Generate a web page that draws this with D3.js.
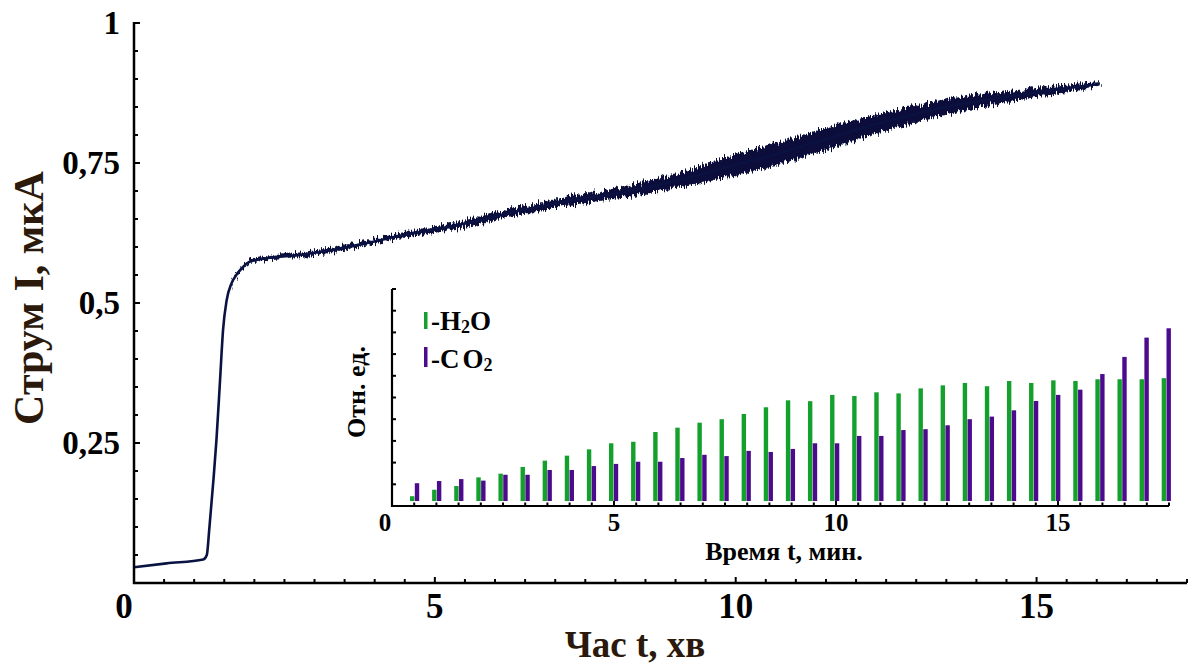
<!DOCTYPE html>
<html>
<head>
<meta charset="utf-8">
<script src="https://cdn.jsdelivr.net/npm/d3@7"></script>
<style>
  body { margin: 0; background: #fff; }
  svg { display: block; }
  text { font-family: "Liberation Serif", "Times New Roman", serif; font-weight: bold; }
</style>
</head>
<body>
<svg id="chart" width="1190" height="667"></svg>
<script>
// ---- Main trace: current vs time ----
const traceTime = [0, 0.54, 1.15, 1.21, 1.25, 1.32, 1.37, 1.43, 1.48, 1.54, 1.62, 1.70, 1.80, 1.93,
  2.20, 2.76, 3.31, 3.87, 4.42, 5.08, 5.64, 6.19, 6.74, 7.30, 7.85, 8.41, 8.96, 9.51, 10.07,
  10.62, 11.17, 11.73, 12.28, 12.83, 13.39, 13.94, 14.50, 15.05, 15.60, 16.05];
const traceCurrent = [0.028, 0.035, 0.042, 0.050, 0.095, 0.184, 0.255, 0.362, 0.452, 0.505, 0.535,
  0.550, 0.563, 0.574, 0.580, 0.586, 0.595, 0.607, 0.620, 0.633, 0.645, 0.660, 0.672, 0.684,
  0.693, 0.704, 0.717, 0.732, 0.749, 0.764, 0.782, 0.800, 0.818, 0.833, 0.848, 0.859, 0.868,
  0.877, 0.885, 0.891];
// half-width of the noise band around the trace (µA)
const traceSpread = [0, 0, 0, 0, 0, 0, 0, 0, 0, 0, 0.001, 0.002, 0.002, 0.003, 0.003, 0.004,
  0.0045, 0.0045, 0.005, 0.006, 0.0065, 0.007, 0.0075, 0.008, 0.009, 0.011, 0.013, 0.016,
  0.019, 0.020, 0.020, 0.019, 0.017, 0.016, 0.014, 0.012, 0.010, 0.008, 0.006, 0.003];

const mainXTicks = [0, 5, 10, 15];
const mainXTickLabels = ["0", "5", "10", "15"];
const mainYTicks = [0.25, 0.5, 0.75, 1];
const mainYTickLabels = ["0,25", "0,5", "0,75", "1"];

// ---- Inset: relative amounts of H2O and CO2 ----
const insetTime = [0.5, 1, 1.5, 2, 2.5, 3, 3.5, 4, 4.5, 5, 5.5, 6, 6.5, 7, 7.5, 8, 8.5, 9, 9.5,
  10, 10.5, 11, 11.5, 12, 12.5, 13, 13.5, 14, 14.5, 15, 15.5, 16, 16.5, 17, 17.5];
const waterValues = [0.45, 0.75, 0.92, 1.32, 1.49, 1.80, 2.09, 2.32, 2.61, 2.89, 2.96, 3.41,
  3.61, 3.84, 4.00, 4.24, 4.55, 4.87, 4.83, 5.12, 5.07, 5.24, 5.19, 5.42, 5.56, 5.67, 5.52,
  5.76, 5.67, 5.79, 5.76, 5.84, 5.84, 5.84, 5.89];
const co2Values = [1.05, 1.15, 1.24, 1.17, 1.44, 1.44, 1.66, 1.66, 1.84, 1.94, 2.04, 2.04,
  2.21, 2.36, 2.30, 2.54, 2.49, 2.63, 2.89, 2.89, 3.23, 3.23, 3.50, 3.54, 3.72, 4.00, 4.12,
  4.41, 4.84, 5.12, 5.36, 6.08, 6.87, 7.76, 8.19];
const insetXTicks = [0, 5, 10, 15];
const insetXTickLabels = ["0", "5", "10", "15"];
const seriesNames = ["H2O", "CO2"];
const seriesColors = ["#14a02c", "#4c0b8c"];

const svg = d3.select("#chart");

// ---- scales ----
const x = d3.scaleLinear().domain([0, 17.5]).range([134, 1187]);
const y = d3.scaleLinear().domain([0, 1]).range([583, 23]);

const xIn = d3.scaleLinear().domain([0, 17.5]).range([392, 1169]);
const yIn = d3.scaleLinear().domain([0, 10]).range([506, 289]);
// bars sit on a slightly narrower span than the frame
const xBar = d3.scaleLinear().domain([0, 17.5]).range([392.5, 1166.3]);
const barBase = 0.23;

// ---- noise texture for the trace band ----
const defs = svg.append("defs");
const f = defs.append("filter").attr("id", "jitter")
  .attr("x", "-5%").attr("y", "-50%").attr("width", "110%").attr("height", "200%");
f.append("feTurbulence").attr("type", "fractalNoise")
  .attr("baseFrequency", "0.7 0.06").attr("numOctaves", 2).attr("seed", 5).attr("result", "n");
f.append("feDisplacementMap").attr("in", "SourceGraphic").attr("in2", "n")
  .attr("scale", 12).attr("xChannelSelector", "R").attr("yChannelSelector", "G");

// ---- main trace ----
const trace = traceTime.map((t, i) => ({ t, v: traceCurrent[i], s: traceSpread[i] }));

svg.append("path")
  .datum(trace)
  .attr("fill", "#080e3a")
  .attr("filter", "url(#jitter)")
  .attr("d", d3.area().curve(d3.curveMonotoneX)
    .x(d => x(d.t)).y0(d => y(d.v - d.s)).y1(d => y(d.v + d.s)));

svg.append("path")
  .datum(trace)
  .attr("fill", "none")
  .attr("stroke", "#0a1242")
  .attr("stroke-width", 2.6)
  .attr("stroke-linejoin", "round")
  .attr("d", d3.line().curve(d3.curveMonotoneX).x(d => x(d.t)).y(d => y(d.v)));

// ---- main axes ----
const axisG = svg.append("g").attr("stroke", "#000");
axisG.append("line").attr("x1", x(0)).attr("x2", x(0)).attr("y1", y(1) - 1).attr("y2", y(0) + 1)
  .attr("stroke-width", 2.5);
axisG.append("line").attr("x1", x(0) - 1).attr("x2", x(17.5)).attr("y1", y(0)).attr("y2", y(0))
  .attr("stroke-width", 2.5);

const yMinor = d3.range(0, 1.0001, 0.05);
axisG.selectAll(".ytick").data(yMinor).join("line")
  .attr("x1", x(0)).attr("x2", d => x(0) + (Math.abs(d * 4 - Math.round(d * 4)) < 1e-6 ? 6 : 4))
  .attr("y1", d => y(d)).attr("y2", d => y(d)).attr("stroke-width", 2);

const xMinor = d3.range(0, 17.5001, 0.5);
axisG.selectAll(".xtick").data(xMinor).join("line")
  .attr("x1", d => x(d)).attr("x2", d => x(d))
  .attr("y1", y(0)).attr("y2", d => y(0) - (d % 5 === 0 ? 6 : 4)).attr("stroke-width", 2);

svg.selectAll(".ylab").data(mainYTicks).join("text")
  .attr("x", 120).attr("y", d => y(d)).attr("dy", "0.34em")
  .attr("text-anchor", "end").attr("font-size", 33).attr("fill", "#000")
  .text((d, i) => mainYTickLabels[i]);

svg.selectAll(".xlab").data(mainXTicks).join("text")
  .attr("x", d => x(d) - (d === 0 ? 10 : 0)).attr("y", 618)
  .attr("text-anchor", "middle").attr("font-size", 35).attr("fill", "#000")
  .text((d, i) => mainXTickLabels[i]);

svg.append("text")
  .attr("transform", "translate(43,298) rotate(-90)")
  .attr("text-anchor", "middle").attr("font-size", 42).attr("fill", "#2b1a0c")
  .text("Струм I, мкА");

svg.append("text")
  .attr("x", 635).attr("y", 657)
  .attr("text-anchor", "middle").attr("font-size", 37).attr("fill", "#2b1a0c")
  .text("Час t, хв");

// ---- inset bars ----
const bw = 4.4;
const inset = svg.append("g");
inset.selectAll(".bw").data(insetTime).join("rect")
  .attr("x", d => xBar(d) - bw - 0.2).attr("width", bw)
  .attr("y", (d, i) => yIn(waterValues[i]))
  .attr("height", (d, i) => yIn(barBase) - yIn(waterValues[i]))
  .attr("fill", seriesColors[0]);
inset.selectAll(".bc").data(insetTime).join("rect")
  .attr("x", d => xBar(d) + 0.2).attr("width", bw)
  .attr("y", (d, i) => yIn(co2Values[i]))
  .attr("height", (d, i) => yIn(barBase) - yIn(co2Values[i]))
  .attr("fill", seriesColors[1]);

// ---- inset axes ----
const inAx = svg.append("g").attr("stroke", "#000");
inAx.append("line").attr("x1", xIn(0)).attr("x2", xIn(0)).attr("y1", yIn(10)).attr("y2", yIn(0) + 1)
  .attr("stroke-width", 2.2);
inAx.append("line").attr("x1", xIn(0) - 1).attr("x2", xIn(17.5)).attr("y1", yIn(0)).attr("y2", yIn(0))
  .attr("stroke-width", 2.2);
inAx.selectAll(".iy").data(d3.range(0, 10.001, 1)).join("line")
  .attr("x1", xIn(0)).attr("x2", xIn(0) + 4)
  .attr("y1", d => yIn(d)).attr("y2", d => yIn(d)).attr("stroke-width", 2);
inAx.selectAll(".ix").data(d3.range(0, 17.5001, 0.5)).join("line")
  .attr("x1", d => xIn(d)).attr("x2", d => xIn(d))
  .attr("y1", yIn(0)).attr("y2", d => yIn(0) - (d % 5 === 0 ? 5 : 3.5)).attr("stroke-width", 2);

svg.selectAll(".ixl").data(insetXTicks).join("text")
  .attr("x", d => xIn(d) - (d === 0 ? 7 : 0)).attr("y", 531)
  .attr("text-anchor", "middle").attr("font-size", 25).attr("fill", "#000")
  .text((d, i) => insetXTickLabels[i]);

svg.append("text")
  .attr("x", 784).attr("y", 560).attr("text-anchor", "middle")
  .attr("font-size", 26).attr("fill", "#000")
  .text("Время t, мин.");

svg.append("text")
  .attr("transform", "translate(365,392) rotate(-90)")
  .attr("text-anchor", "middle").attr("font-size", 26).attr("fill", "#000")
  .text("Отн. ед.");

// ---- legend ----
const legend = svg.append("g");
const legRows = [{ y: 330, top: 312 }, { y: 368, top: 347 }];
seriesNames.forEach((name, i) => {
  legend.append("rect").attr("x", 424).attr("y", legRows[i].top)
    .attr("width", 3.5).attr("height", legRows[i].y - legRows[i].top - 1)
    .attr("fill", seriesColors[i]);
  const t = legend.append("text").attr("x", 431).attr("y", legRows[i].y)
    .attr("font-size", 27).attr("fill", "#000");
  if (name === "H2O") {
    t.append("tspan").text("-H");
    t.append("tspan").attr("font-size", 18).attr("dy", 3).text("2");
    t.append("tspan").attr("dy", -3).text("O");
  } else {
    t.append("tspan").text("-C");
    t.append("tspan").attr("dx", 3).text("O");
    t.append("tspan").attr("font-size", 18).attr("dy", 3).text("2");
  }
});
</script>
</body>
</html>
